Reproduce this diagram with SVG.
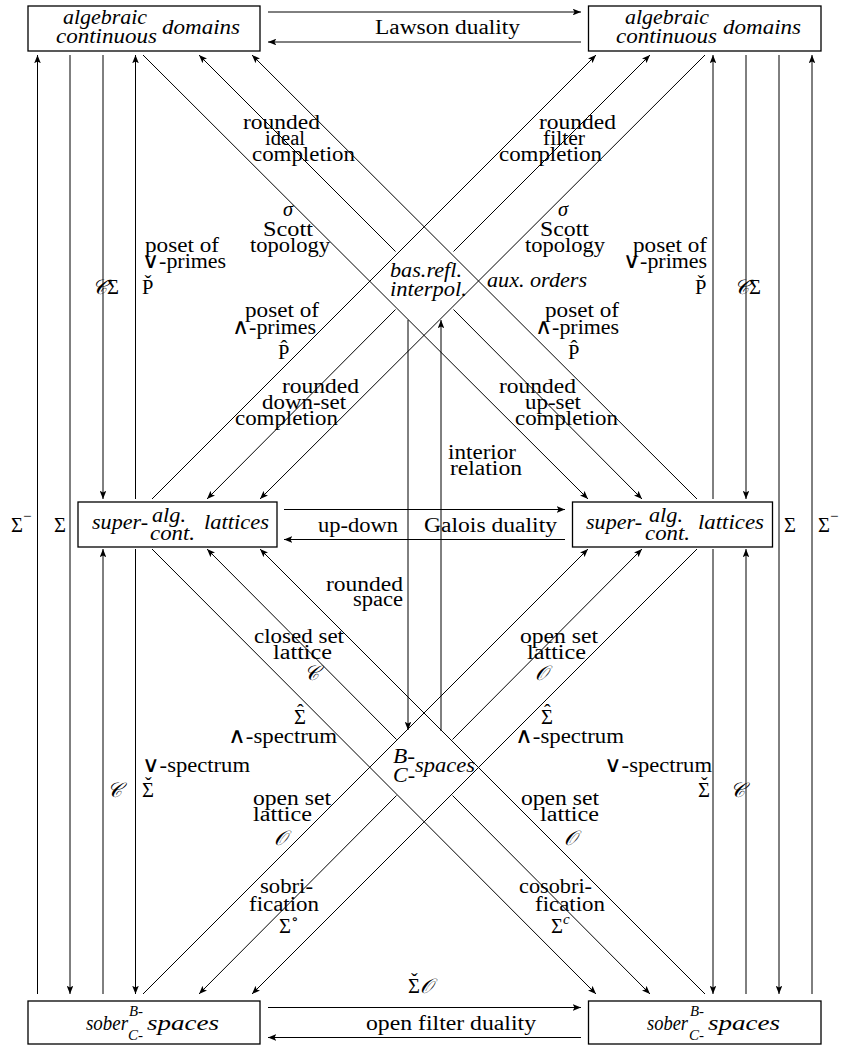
<svg xmlns="http://www.w3.org/2000/svg" width="843" height="1045" viewBox="0 0 843 1045">
<style>
.c{stroke:#000;stroke-width:1;fill:none}
.b{stroke:#000;stroke-width:1.3;fill:#fff}
text{font-family:"Liberation Serif","DejaVu Serif",serif;font-size:20.5px;fill:#000}
.i{font-style:italic}
.s{font-size:15px}
.m{font-family:"DejaVu Sans",sans-serif;font-weight:200;font-size:22px}
.a{font-size:20px}
</style>
<defs>
<marker id="ah" viewBox="0 0 10 8" refX="10" refY="4" markerWidth="8.5" markerHeight="6.6" markerUnits="userSpaceOnUse" orient="auto"><path d="M0,0 L10,4 L0,8 L2.2,4 z" fill="#000"/></marker>
</defs>
<rect width="843" height="1045" fill="#fff"/>
<g id="connectors">
<line class="c" x1="37.5" y1="994" x2="37.5" y2="55" marker-end="url(#ah)"/>
<line class="c" x1="70" y1="55" x2="70" y2="994" marker-end="url(#ah)"/>
<line class="c" x1="103" y1="55" x2="103" y2="499" marker-end="url(#ah)"/>
<line class="c" x1="103" y1="994" x2="103" y2="549" marker-end="url(#ah)"/>
<line class="c" x1="135.5" y1="499" x2="135.5" y2="55" marker-end="url(#ah)"/>
<line class="c" x1="135.5" y1="549" x2="135.5" y2="994" marker-end="url(#ah)"/>
<line class="c" x1="713" y1="499" x2="713" y2="55" marker-end="url(#ah)"/>
<line class="c" x1="713" y1="549" x2="713" y2="994" marker-end="url(#ah)"/>
<line class="c" x1="746" y1="55" x2="746" y2="499" marker-end="url(#ah)"/>
<line class="c" x1="746" y1="994" x2="746" y2="549" marker-end="url(#ah)"/>
<line class="c" x1="779" y1="55" x2="779" y2="994" marker-end="url(#ah)"/>
<line class="c" x1="812" y1="994" x2="812" y2="55" marker-end="url(#ah)"/>
<line class="c" x1="408" y1="320" x2="408" y2="730" marker-end="url(#ah)"/>
<line class="c" x1="441" y1="731" x2="441" y2="320" marker-end="url(#ah)"/>
<line class="c" x1="268" y1="12" x2="581" y2="12" marker-end="url(#ah)"/>
<line class="c" x1="581" y1="42" x2="268" y2="42" marker-end="url(#ah)"/>
<line class="c" x1="284" y1="509.5" x2="565" y2="509.5" marker-end="url(#ah)"/>
<line class="c" x1="565" y1="539.5" x2="284" y2="539.5" marker-end="url(#ah)"/>
<line class="c" x1="268" y1="1007.5" x2="581" y2="1007.5" marker-end="url(#ah)"/>
<line class="c" x1="581" y1="1037.5" x2="268" y2="1037.5" marker-end="url(#ah)"/>
<line class="c" x1="143" y1="55" x2="588" y2="499" marker-end="url(#ah)"/>
<line class="c" x1="697" y1="499" x2="252" y2="55" marker-end="url(#ah)"/>
<line class="c" x1="152" y1="499" x2="596" y2="55" marker-end="url(#ah)"/>
<line class="c" x1="705" y1="55" x2="260" y2="499" marker-end="url(#ah)"/>
<line class="c" x1="395.5" y1="251.5" x2="199" y2="55" marker-end="url(#ah)"/>
<line class="c" x1="453.5" y1="309.5" x2="642" y2="499" marker-end="url(#ah)"/>
<line class="c" x1="453.5" y1="251.5" x2="650" y2="55" marker-end="url(#ah)"/>
<line class="c" x1="395.5" y1="309.5" x2="207" y2="499" marker-end="url(#ah)"/>
<line class="c" x1="152" y1="549" x2="596" y2="994" marker-end="url(#ah)"/>
<line class="c" x1="705" y1="994" x2="260" y2="549" marker-end="url(#ah)"/>
<line class="c" x1="143" y1="994" x2="588" y2="549" marker-end="url(#ah)"/>
<line class="c" x1="697" y1="549" x2="252" y2="994" marker-end="url(#ah)"/>
<line class="c" x1="396.5" y1="739.5" x2="207" y2="549" marker-end="url(#ah)"/>
<line class="c" x1="452.5" y1="795.5" x2="650" y2="994" marker-end="url(#ah)"/>
<line class="c" x1="452.5" y1="739.5" x2="642" y2="549" marker-end="url(#ah)"/>
<line class="c" x1="396.5" y1="795.5" x2="199" y2="994" marker-end="url(#ah)"/>
</g>
<g id="node-tl">
<rect class="b" x="28" y="6" width="232" height="45"/>
<text class="i" x="63" y="24" textLength="84" lengthAdjust="spacingAndGlyphs">algebraic</text>
<text class="i" x="56" y="42.5" textLength="101" lengthAdjust="spacingAndGlyphs">continuous</text>
<text class="i" x="162" y="33.5" textLength="78" lengthAdjust="spacingAndGlyphs">domains</text>
</g>
<g id="node-tr">
<rect class="b" x="588.5" y="6" width="232.5" height="45"/>
<text class="i" x="625" y="24" textLength="84" lengthAdjust="spacingAndGlyphs">algebraic</text>
<text class="i" x="616" y="42.5" textLength="101" lengthAdjust="spacingAndGlyphs">continuous</text>
<text class="i" x="723" y="33.5" textLength="78" lengthAdjust="spacingAndGlyphs">domains</text>
</g>
<g id="node-ml">
<rect class="b" x="78" y="502" width="199" height="45"/>
<text class="i" x="92" y="528.5" textLength="56" lengthAdjust="spacingAndGlyphs">super-</text>
<text class="i" x="152" y="522" textLength="34" lengthAdjust="spacingAndGlyphs">alg.</text>
<text class="i" x="150" y="539.5" textLength="45" lengthAdjust="spacingAndGlyphs">cont.</text>
<text class="i" x="204" y="528.5" textLength="65" lengthAdjust="spacingAndGlyphs">lattices</text>
</g>
<g id="node-mr">
<rect class="b" x="572.5" y="502" width="200" height="45"/>
<text class="i" x="586" y="528.5" textLength="56" lengthAdjust="spacingAndGlyphs">super-</text>
<text class="i" x="649" y="522" textLength="34" lengthAdjust="spacingAndGlyphs">alg.</text>
<text class="i" x="645" y="539.5" textLength="45" lengthAdjust="spacingAndGlyphs">cont.</text>
<text class="i" x="698" y="528.5" textLength="66" lengthAdjust="spacingAndGlyphs">lattices</text>
</g>
<g id="node-bl">
<rect class="b" x="28" y="1001" width="232" height="43"/>
<text class="i" x="86" y="1030" textLength="42" lengthAdjust="spacingAndGlyphs">sober</text>
<text class="i s" x="129" y="1016" textLength="14" lengthAdjust="spacingAndGlyphs">B-</text>
<text class="i s" x="128" y="1040" textLength="15" lengthAdjust="spacingAndGlyphs">C-</text>
<text class="i" x="147" y="1030" textLength="72" lengthAdjust="spacingAndGlyphs">spaces</text>
</g>
<g id="node-br">
<rect class="b" x="588.5" y="1001" width="232.5" height="43"/>
<text class="i" x="647" y="1030" textLength="41" lengthAdjust="spacingAndGlyphs">sober</text>
<text class="i s" x="690" y="1016" textLength="14" lengthAdjust="spacingAndGlyphs">B-</text>
<text class="i s" x="689" y="1040" textLength="15" lengthAdjust="spacingAndGlyphs">C-</text>
<text class="i" x="708" y="1030" textLength="72" lengthAdjust="spacingAndGlyphs">spaces</text>
</g>
<g id="node-center-top">
<text class="i" x="390" y="277" textLength="72" lengthAdjust="spacingAndGlyphs">bas.refl.</text>
<text class="i" x="390" y="296" textLength="77" lengthAdjust="spacingAndGlyphs">interpol.</text>
</g>
<g id="node-center-bottom">
<text class="i" x="393" y="763" textLength="22" lengthAdjust="spacingAndGlyphs">B-</text>
<text class="i" x="393" y="782" textLength="22" lengthAdjust="spacingAndGlyphs">C-</text>
<text class="i" x="415" y="772" textLength="60" lengthAdjust="spacingAndGlyphs">spaces</text>
</g>
<g id="labels">
<text x="375" y="34" textLength="145" lengthAdjust="spacingAndGlyphs">Lawson duality</text>
<text x="243" y="129" textLength="77" lengthAdjust="spacingAndGlyphs">rounded</text>
<text x="265" y="145" textLength="40" lengthAdjust="spacingAndGlyphs">ideal</text>
<text x="252" y="161" textLength="103" lengthAdjust="spacingAndGlyphs">completion</text>
<text x="539" y="129" textLength="77" lengthAdjust="spacingAndGlyphs">rounded</text>
<text x="543" y="145" textLength="42" lengthAdjust="spacingAndGlyphs">filter</text>
<text x="499" y="161" textLength="103" lengthAdjust="spacingAndGlyphs">completion</text>
<text class="i" x="283" y="216">σ</text>
<text x="263" y="236" textLength="50" lengthAdjust="spacingAndGlyphs">Scott</text>
<text x="250" y="252" textLength="80" lengthAdjust="spacingAndGlyphs">topology</text>
<text class="i" x="558" y="216">σ</text>
<text x="540" y="236" textLength="49" lengthAdjust="spacingAndGlyphs">Scott</text>
<text x="525" y="252" textLength="80" lengthAdjust="spacingAndGlyphs">topology</text>
<text class="i" x="487" y="287" textLength="100" lengthAdjust="spacingAndGlyphs">aux. orders</text>
<text x="145" y="252" textLength="74" lengthAdjust="spacingAndGlyphs">poset of</text>
<text x="142" y="268" textLength="84" lengthAdjust="spacingAndGlyphs"><tspan class="m">∨</tspan>-primes</text>
<text x="142" y="294">P̌</text>
<text x="92" y="294"><tspan class="i">𝒞</tspan>Σ</text>
<text x="633" y="252" textLength="74" lengthAdjust="spacingAndGlyphs">poset of</text>
<text x="623" y="268" textLength="84" lengthAdjust="spacingAndGlyphs"><tspan class="m">∨</tspan>-primes</text>
<text x="695" y="294">P̌</text>
<text x="734" y="294"><tspan class="i">𝒞</tspan>Σ</text>
<text x="245" y="317" textLength="74" lengthAdjust="spacingAndGlyphs">poset of</text>
<text x="232" y="334" textLength="84" lengthAdjust="spacingAndGlyphs"><tspan class="m">∧</tspan>-primes</text>
<text x="278" y="359">P̂</text>
<text x="545" y="317" textLength="74" lengthAdjust="spacingAndGlyphs">poset of</text>
<text x="535" y="334" textLength="84" lengthAdjust="spacingAndGlyphs"><tspan class="m">∧</tspan>-primes</text>
<text x="568" y="359">P̂</text>
<text x="282" y="393" textLength="77" lengthAdjust="spacingAndGlyphs">rounded</text>
<text x="262" y="409" textLength="84" lengthAdjust="spacingAndGlyphs">down-set</text>
<text x="235" y="425" textLength="103" lengthAdjust="spacingAndGlyphs">completion</text>
<text x="499" y="393" textLength="77" lengthAdjust="spacingAndGlyphs">rounded</text>
<text x="525" y="409" textLength="56" lengthAdjust="spacingAndGlyphs">up-set</text>
<text x="515" y="425" textLength="103" lengthAdjust="spacingAndGlyphs">completion</text>
<text x="448" y="459" textLength="68" lengthAdjust="spacingAndGlyphs">interior</text>
<text x="450" y="475" textLength="72" lengthAdjust="spacingAndGlyphs">relation</text>
<text x="11" y="532">Σ<tspan class="s" dy="-11">−</tspan></text>
<text x="54" y="532">Σ</text>
<text x="784" y="532">Σ</text>
<text x="818" y="532">Σ<tspan class="s" dy="-11">−</tspan></text>
<text x="318" y="532" textLength="80" lengthAdjust="spacingAndGlyphs">up-down</text>
<text x="424" y="532" textLength="133" lengthAdjust="spacingAndGlyphs">Galois duality</text>
<text x="326" y="591" textLength="77" lengthAdjust="spacingAndGlyphs">rounded</text>
<text x="353" y="606" textLength="50" lengthAdjust="spacingAndGlyphs">space</text>
<text x="254" y="643" textLength="90" lengthAdjust="spacingAndGlyphs">closed set</text>
<text x="273" y="659" textLength="59" lengthAdjust="spacingAndGlyphs">lattice</text>
<text class="i" x="304" y="680">𝒞</text>
<text x="520" y="643" textLength="78" lengthAdjust="spacingAndGlyphs">open set</text>
<text x="527" y="659" textLength="59" lengthAdjust="spacingAndGlyphs">lattice</text>
<text class="i" x="535" y="680">𝒪</text>
<text x="294" y="724">Σ</text><text class="a" x="297" y="719">ˆ</text>
<text x="228" y="743" textLength="109" lengthAdjust="spacingAndGlyphs"><tspan class="m">∧</tspan>-spectrum</text>
<text x="541" y="724">Σ</text><text class="a" x="544" y="719">ˆ</text>
<text x="515" y="743" textLength="109" lengthAdjust="spacingAndGlyphs"><tspan class="m">∧</tspan>-spectrum</text>
<text x="142" y="772" textLength="108" lengthAdjust="spacingAndGlyphs"><tspan class="m">∨</tspan>-spectrum</text>
<text x="142" y="797">Σ</text><text class="a" x="145" y="792">ˇ</text>
<text class="i" x="107" y="797">𝒞</text>
<text x="604" y="772" textLength="108" lengthAdjust="spacingAndGlyphs"><tspan class="m">∨</tspan>-spectrum</text>
<text x="698" y="797">Σ</text><text class="a" x="701" y="792">ˇ</text>
<text class="i" x="730" y="797">𝒞</text>
<text x="253" y="805" textLength="78" lengthAdjust="spacingAndGlyphs">open set</text>
<text x="253" y="821" textLength="59" lengthAdjust="spacingAndGlyphs">lattice</text>
<text class="i" x="274" y="845">𝒪</text>
<text x="521" y="805" textLength="78" lengthAdjust="spacingAndGlyphs">open set</text>
<text x="540" y="821" textLength="59" lengthAdjust="spacingAndGlyphs">lattice</text>
<text class="i" x="564" y="845">𝒪</text>
<text x="260" y="893" textLength="53" lengthAdjust="spacingAndGlyphs">sobri-</text>
<text x="249" y="911" textLength="70" lengthAdjust="spacingAndGlyphs">fication</text>
<text x="279" y="933">Σ<tspan class="s" dy="-9">∘</tspan></text>
<text x="519" y="893" textLength="73" lengthAdjust="spacingAndGlyphs">cosobri-</text>
<text x="535" y="911" textLength="70" lengthAdjust="spacingAndGlyphs">fication</text>
<text x="551" y="933">Σ<tspan class="s i" dy="-9">c</tspan></text>
<text x="408" y="993">Σ<tspan class="i">𝒪</tspan></text><text class="a" x="411" y="988">ˇ</text>
<text x="366" y="1030" textLength="170" lengthAdjust="spacingAndGlyphs">open filter duality</text>
</g>
</svg>
